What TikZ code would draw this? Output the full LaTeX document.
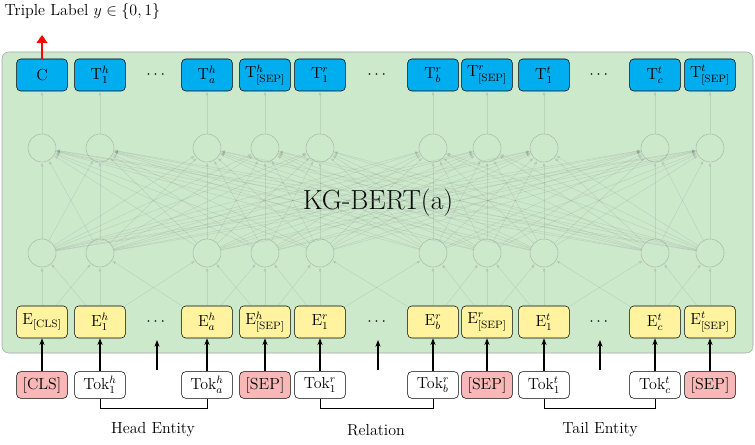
\documentclass[tikz,border=0pt]{standalone}
\usepackage{amsmath}
\usetikzlibrary{positioning,arrows.meta}
\definecolor{topblue}{RGB}{0,174,239}
\definecolor{embyellow}{RGB}{255,243,160}
\definecolor{seppink}{RGB}{248,184,184}
\definecolor{bertgreen}{RGB}{204,233,204}
\tikzstyle{outbox} = [draw, rounded corners=3pt, fill=topblue, minimum height=24pt, minimum width=38pt, inner sep=1pt, font=\large]
\tikzstyle{embbox} = [draw, rounded corners=3pt, fill=embyellow, minimum height=24pt, minimum width=38pt, inner sep=1pt, font=\large]
\tikzstyle{tokbox} = [draw, rounded corners=3pt, fill=white, minimum height=20pt, minimum width=38pt, inner sep=1pt, font=\large]
\tikzstyle{sepbox} = [tokbox, fill=seppink]
\tikzstyle{neuron} = [draw=gray, opacity=0.45, circle, minimum size=21pt, inner sep=0pt]
\tikzstyle{faint} = [draw=gray, opacity=0.2, -{Latex[length=3pt]}]

\begin{document}
\begin{tikzpicture}[x=0.75pt,y=-0.75pt]
		\useasboundingbox (0,0) rectangle (755,445);
		\draw [fill=bertgreen, draw=gray!70, rounded corners=5pt] (2,52) rectangle (753,353);
		\node [font=\huge] (title) at (378,203) {KG-BERT(a)};

		% top and embedding rows
		\foreach \x/\t/\e/\k/\s [count=\i] in {
			42/C/E$_{\text{[CLS]}}$/[CLS]/sepbox,
			100/T$_1^h$/E$_1^h$/Tok$_1^h$/tokbox,
			157///dots/,
			207/T$_a^h$/E$_a^h$/Tok$_a^h$/tokbox,
			265/T$^h_{\text{[SEP]}}$/E$^h_{\text{[SEP]}}$/[SEP]/sepbox,
			320/T$_1^r$/E$_1^r$/Tok$_1^r$/tokbox,
			378///dots/,
			433/T$_b^r$/E$_b^r$/Tok$_b^r$/tokbox,
			487/T$^r_{\text{[SEP]}}$/E$^r_{\text{[SEP]}}$/[SEP]/sepbox,
			544/T$_1^t$/E$_1^t$/Tok$_1^t$/tokbox,
			600///dots/,
			655/T$_c^t$/E$_c^t$/Tok$_c^t$/tokbox,
			710/T$^t_{\text{[SEP]}}$/E$^t_{\text{[SEP]}}$/[SEP]/sepbox} {
			\def\tmp{dots}
			\ifx\k\tmp
				\node [font=\large] (t\i) at (\x,75) {$\cdots$};
				\node [font=\large] (e\i) at (\x,322) {$\cdots$};
				\coordinate (k\i) at (\x,385);
				\draw [-{Stealth[length=5pt]}, thick] (\x,370) -- (\x,340);
			\else
				\node [outbox] (t\i) at (\x,75) {\t};
				\node [embbox] (e\i) at (\x,322) {\e};
				\node [\s] (k\i) at (\x,385) {\k};
				\node [neuron] (u\i) at (\x,148) {};
				\node [neuron] (l\i) at (\x,253) {};
				\draw [-{Stealth[length=5pt]}, thick] (k\i) -- (e\i);
			\fi
		}

		% faint connections
		\foreach \i in {1,2,4,5,6,8,9,10,12,13} {
			\draw [faint] (u\i) -- (t\i);
			\foreach \j in {1,2,4,5,6,8,9,10,12,13} {
				\draw [faint] (l\j) -- (u\i);
			}
		}
		\foreach \i/\j in {1/1,1/2,2/1,2/2,2/4,4/2,4/4,4/5,5/4,5/5,5/6,6/5,6/6,6/8,8/6,8/8,8/9,9/8,9/9,9/10,10/9,10/10,10/12,12/10,12/12,12/13,13/12,13/13} {
			\draw [faint] (e\i) -- (l\j);
		}

		% output
		\draw [-{Triangle[length=6pt,width=8pt]}, red, line width=2pt] (t1.north) -- (42,35);
		\node [anchor=west, font=\large] (label) at (0,12) {Triple Label $y \in \{0,1\}$};

		% segments
		\draw (k2.south) -- ++(0,10) -| (k4.south);
		\draw (k6.south) -- ++(0,10) -| (k8.south);
		\draw (k10.south) -- ++(0,10) -| (k12.south);
		\node [font=\large] (head) at (153,430) {Head Entity};
		\node [font=\large] (rel) at (376,430) {Relation};
		\node [font=\large] (tail) at (600,430) {Tail Entity};
	\end{tikzpicture}
\end{document}
